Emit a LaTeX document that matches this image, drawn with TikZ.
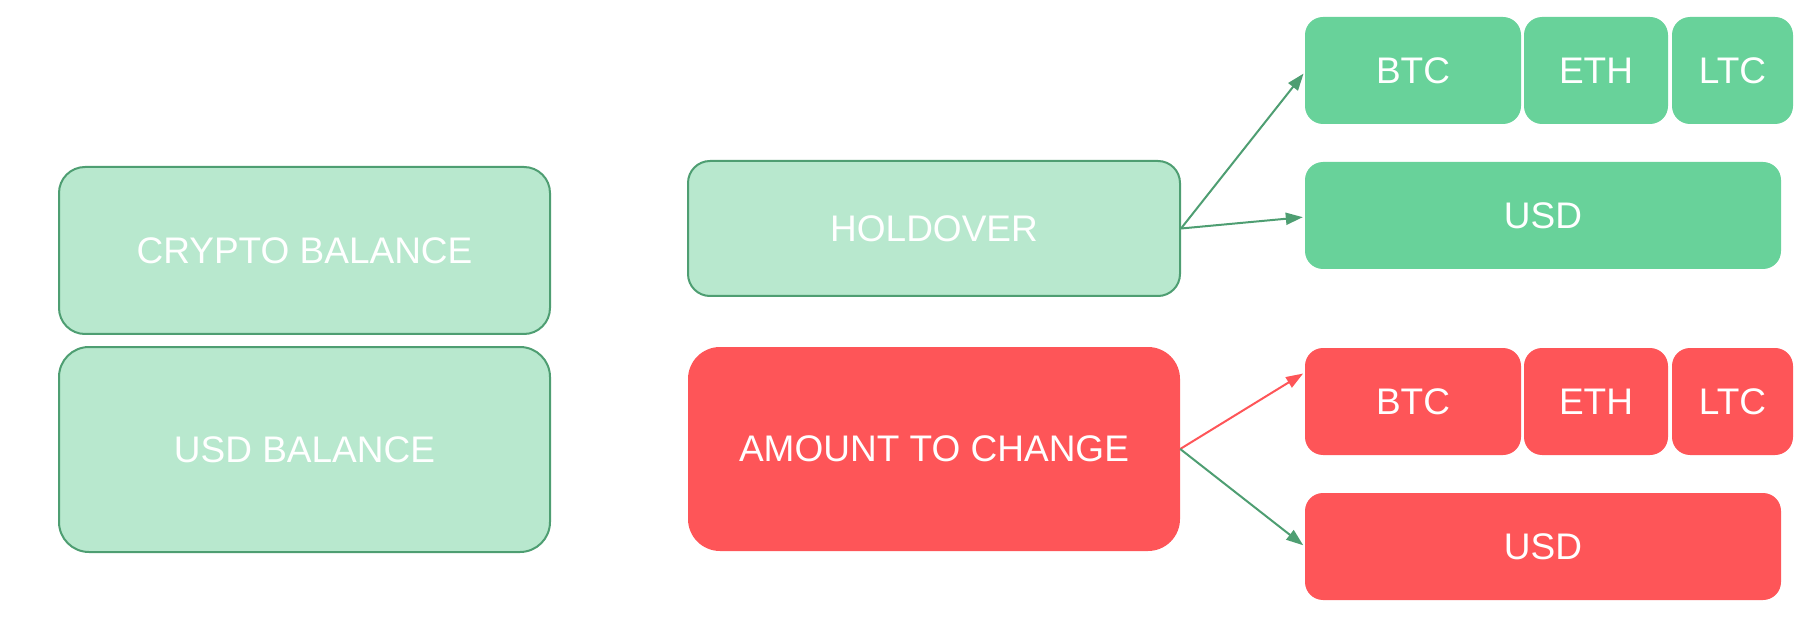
\documentclass[tikz,border=0pt]{standalone}
\usepackage{fontspec}
\setmainfont{Liberation Sans}
\usetikzlibrary{arrows.meta}
\definecolor{lightfill}{HTML}{B8E8CE}
\definecolor{darkgreen}{HTML}{4E9E72}
\definecolor{midgreen}{HTML}{68D29A}
\definecolor{redfill}{HTML}{FE5558}
\tikzset{
  box/.style={rectangle, inner sep=0pt, text=white, font=\fontsize{37}{44}\selectfont},
  lightbox/.style={box, fill=lightfill, draw=darkgreen, line width=2pt},
  greenbox/.style={box, fill=midgreen, rounded corners=18pt},
  redbox/.style={box, fill=redfill, rounded corners=18pt},
  arr/.style={line width=2pt, -{Triangle[length=17pt,width=12pt]}, shorten >=2pt},
}
\begin{document}
\begin{tikzpicture}[x=1pt,y=-1pt]
\useasboundingbox (0,0) rectangle (1810,644);
% left column
\node[lightbox, rounded corners=26pt, minimum width=491pt, minimum height=167pt] (crypto) at (304.5,250.5) {CRYPTO BALANCE};
\node[lightbox, rounded corners=30pt, minimum width=491pt, minimum height=205pt] (usdbal) at (304.5,449.5) {USD BALANCE};
% middle column
\node[lightbox, rounded corners=22pt, minimum width=492pt, minimum height=135pt] (hold) at (934,228.5) {HOLDOVER};
\node[box, fill=redfill, rounded corners=32pt, minimum width=492pt, minimum height=204pt] (amount) at (934,449) {AMOUNT TO CHANGE};
% right column, green
\node[greenbox, minimum width=216pt, minimum height=107pt] (btcg) at (1413,70.5) {BTC};
\node[greenbox, minimum width=144pt, minimum height=107pt] (ethg) at (1596,70.5) {ETH};
\node[greenbox, minimum width=121pt, minimum height=107pt] (ltcg) at (1732.5,70.5) {LTC};
\node[greenbox, minimum width=476pt, minimum height=107pt] (usdg) at (1543,215.5) {USD};
% right column, red
\node[redbox, minimum width=216pt, minimum height=107pt] (btcr) at (1413,401.5) {BTC};
\node[redbox, minimum width=144pt, minimum height=107pt] (ethr) at (1596,401.5) {ETH};
\node[redbox, minimum width=121pt, minimum height=107pt] (ltcr) at (1732.5,401.5) {LTC};
\node[redbox, minimum width=476pt, minimum height=107pt] (usdr) at (1543,546.5) {USD};
% connectors
\draw[arr, darkgreen] (hold.east) -- ([yshift=-1.5pt]btcg.west);
\draw[arr, darkgreen] (hold.east) -- ([yshift=-1.5pt]usdg.west);
\draw[arr, redfill] (amount.east) -- ([yshift=29pt]btcr.west);
\draw[arr, darkgreen] (amount.east) -- (usdr.west);
\end{tikzpicture}
\end{document}
